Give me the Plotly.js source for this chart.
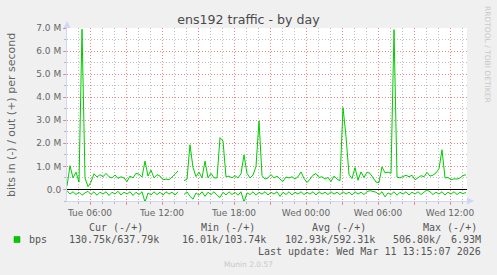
<!DOCTYPE html>
<html>
<head>
<meta charset="utf-8">
<script src="https://cdn.plot.ly/plotly-3.0.1.min.js"></script>
<style>
html,body{margin:0;padding:0;background:#f0f0f0;}
#chart{width:497px;height:275px;}
</style>
</head>
<body>
<div id="chart"></div>
<script>
// ---- data (Mbit/s), 15-minute samples starting 2026-03-10 04:05 ----
const sampleStart = '2026-03-10T04:05:00Z';
const sampleStepMin = 15;
const bpsOut = [
0.15,1.03,0.5,0.75,0.32,6.95,0.5,0.12,0.32,0.68,
0.54,0.64,0.55,0.7,0.55,0.5,0.63,0.48,0.55,0.5,
0.34,0.58,0.5,0.7,0.66,0.54,1.23,0.58,0.84,0.5,
0.64,0.58,0.42,0.45,0.42,0.52,0.66,0.8,null,0.38,
0.45,1.94,0.95,0.56,0.75,0.5,1.23,0.5,0.7,0.5,
0.5,2.25,2.1,0.55,0.58,0.5,0.6,0.5,0.68,1.5,
0.7,0.5,0.62,1.0,2.97,0.6,0.45,0.5,0.65,0.5,
0.58,0.45,0.35,0.54,0.5,0.55,0.45,0.55,0.76,0.48,
0.3,0.45,0.62,0.69,0.52,0.55,0.45,0.52,0.34,0.58,
0.45,0.38,3.55,2.3,0.65,0.47,0.95,0.4,0.76,0.52,
0.75,0.7,0.5,0.32,0.3,0.98,0.72,0.75,0.7,6.93,
0.54,0.5,0.56,0.62,0.55,0.62,0.42,0.5,0.6,0.55,
0.74,0.58,0.62,0.72,0.9,1.72,0.5,0.52,0.42,0.46,
0.45,0.5,0.6,0.64
];
const bpsIn = [
0.05,0.2,0.1,0.22,0.12,0.25,0.15,0.08,0.22,0.1,
0.25,0.12,0.2,0.1,0.26,0.12,0.2,0.08,0.24,0.12,
0.2,0.1,0.26,0.12,0.22,0.1,0.55,0.15,0.24,0.1,
0.22,0.12,0.25,0.1,0.2,0.12,0.24,0.1,null,0.22,
0.1,0.3,0.42,0.15,0.25,0.1,0.3,0.12,0.22,0.1,
0.25,0.35,0.12,0.24,0.1,0.22,0.12,0.25,0.1,0.55,
0.15,0.22,0.1,0.25,0.12,0.2,0.1,0.24,0.12,0.2,
0.1,0.3,0.12,0.22,0.1,0.24,0.12,0.2,0.1,0.22,
0.12,0.2,0.1,0.24,0.1,0.2,0.12,0.22,0.1,0.2,
0.12,0.22,0.1,0.2,0.12,0.24,0.1,0.2,0.12,0.22,
0.1,0.05,0.08,0.12,0.22,0.1,0.32,0.15,0.22,0.1,
0.25,0.12,0.2,0.1,0.24,0.12,0.2,0.1,0.22,0.12,
0.02,0.1,0.22,0.12,0.2,0.1,0.24,0.12,0.2,0.1,
0.22,0.12,0.18,0.13
];
const yTickVals = [0,1,2,3,4,5,6,7];
const yTickText = ['0.0','1.0 M','2.0 M','3.0 M','4.0 M','5.0 M','6.0 M','7.0 M'];
const xTickVals = ['2026-03-10 06:00','2026-03-10 09:00','2026-03-10 12:00','2026-03-10 15:00',
  '2026-03-10 18:00','2026-03-10 21:00','2026-03-11 00:00','2026-03-11 03:00',
  '2026-03-11 06:00','2026-03-11 09:00','2026-03-11 12:00'];
const xTickText = ['Tue 06:00','','Tue 12:00','','Tue 18:00','','Wed 00:00','','Wed 06:00','','Wed 12:00'];
const legendHeaders = ['Cur (-/+)','Min (-/+)','Avg (-/+)','Max (-/+)'];
const legendValues = ['130.75k/637.79k','16.01k/103.74k','102.93k/592.31k','506.80k/','6.93M'];
const lastUpdate = 'Last update: Wed Mar 11 13:15:07 2026';

// ---- build times ----
const t0 = Date.parse(sampleStart);
const times = bpsOut.map((_, i) => new Date(t0 + i*sampleStepMin*60000).toISOString().slice(0,19).replace('T',' '));
const inNeg = bpsIn.map(v => v === null ? null : -v);

// ---- geometry helpers (pixel -> paper) ----
const L = 67, R = 467, T = 28, B = 201;
const X = px => (px - L) / (R - L);
const Y = py => (B - py) / (B - T);

const green = '#00cc00';
const fontCol = '#666666';
const mono = 'DejaVu Sans Mono';

const traces = [
  {x: times, y: inNeg, type: 'scatter', mode: 'lines', line: {color: green, width: 1}, connectgaps: false, hoverinfo: 'skip'},
  {x: times, y: bpsOut, type: 'scatter', mode: 'lines', line: {color: green, width: 1}, connectgaps: false, hoverinfo: 'skip'}
];

const ann = [];
function text(t, px, py, opts) {
  ann.push(Object.assign({text: t, xref: 'paper', yref: 'paper', x: X(px), y: Y(py),
    showarrow: false, xanchor: 'left', yanchor: 'middle',
    font: {family: mono, size: 10, color: '#555555'}}, opts || {}));
}
// column headers
text(legendHeaders[0], 115.8, 227.7, {xanchor: 'center'});
text(legendHeaders[1], 227.5, 227.7, {xanchor: 'center'});
text(legendHeaders[2], 338.7, 227.7, {xanchor: 'center'});
text(legendHeaders[3], 449.5, 227.7, {xanchor: 'center'});
// values
text('bps', 26.5, 239.3);
text(legendValues[0], 66.7, 239.3);
text(legendValues[1], 180.3, 239.3);
text(legendValues[2], 283.3, 239.3);
text(legendValues[3], 391, 239.3);
text(legendValues[4], 482.7, 239.3, {xanchor: 'right'});
text(lastUpdate, 482.5, 251, {xanchor: 'right'});
// watermark texts
text('Munin 2.0.57', 248, 264, {xanchor: 'center', font: {family: 'DejaVu Sans', size: 7.5, color: '#c8c8c8'}});
text('RRDTOOL / TOBI OETIKER', 488, 54, {xanchor: 'center', textangle: 90, font: {family: 'DejaVu Sans', size: 7.5, color: '#c8c8c8'}});
// y axis title
text('bits in (-) / out (+) per second', 11, 115, {xanchor: 'center', textangle: -90, font: {family: 'DejaVu Sans', size: 11, color: fontCol}});

const arrowCol = '#cfd6f8';
const shapes = [
  // y axis arrow (top)
  {type: 'path', xref: 'paper', yref: 'paper',
   path: `M ${X(63.5)},${Y(28)} L ${X(67)},${Y(21)} L ${X(70.5)},${Y(28)} Z`,
   fillcolor: arrowCol, line: {width: 0}},
  // x axis arrow (right)
  {type: 'path', xref: 'paper', yref: 'paper',
   path: `M ${X(467)},${Y(197.5)} L ${X(474)},${Y(201)} L ${X(467)},${Y(204.5)} Z`,
   fillcolor: arrowCol, line: {width: 0}},
  // legend colour box
  {type: 'rect', xref: 'paper', yref: 'paper', x0: X(14), x1: X(20), y0: Y(242.5), y1: Y(236.5),
   fillcolor: green, line: {color: '#00a000', width: 0.5}}
];

const majorGrid = 'rgba(235,120,120,0.75)';
const minorGrid = 'rgba(140,140,140,0.55)';

const layout = {
  width: 497, height: 275,
  margin: {l: L, r: 497 - R, t: T, b: 275 - B, pad: 0},
  paper_bgcolor: '#f0f0f0', plot_bgcolor: '#ffffff',
  showlegend: false,
  title: {text: 'ens192 traffic - by day', xref: 'container', x: 0.5, xanchor: 'center',
    yref: 'container', y: 1 - 19.5/275, yanchor: 'middle',
    font: {family: 'DejaVu Sans', size: 12.6, color: '#4a4a4a'}},
  xaxis: {
    type: 'date',
    range: ['2026-03-10 04:05', '2026-03-11 13:25'],
    tickmode: 'array', tickvals: xTickVals, ticktext: xTickText,
    ticks: 'outside', ticklen: 3, tickcolor: majorGrid, tickwidth: 1,
    showgrid: true, gridcolor: majorGrid, griddash: '1px,2px', gridwidth: 1,
    minor: {dtick: 3600000, tick0: '2026-03-10 00:00', showgrid: true, gridcolor: minorGrid,
      griddash: '1px,2px', gridwidth: 1, ticks: 'outside', ticklen: 2, tickcolor: minorGrid},
    showline: true, linecolor: arrowCol, linewidth: 1,
    zeroline: false,
    tickfont: {family: 'DejaVu Sans', size: 9, color: fontCol},
    fixedrange: true
  },
  yaxis: {
    range: [-0.5, 7.0],
    tickmode: 'array', tickvals: yTickVals, ticktext: yTickText,
    ticks: 'outside', ticklen: 3, tickcolor: majorGrid, tickwidth: 1,
    showgrid: true, gridcolor: majorGrid, griddash: '1px,2px', gridwidth: 1,
    minor: {dtick: 0.5, tick0: 0, showgrid: true, gridcolor: minorGrid,
      griddash: '1px,2px', gridwidth: 1, ticks: 'outside', ticklen: 2, tickcolor: minorGrid},
    showline: true, linecolor: arrowCol, linewidth: 1,
    zeroline: true, zerolinecolor: '#000000', zerolinewidth: 1,
    tickfont: {family: 'DejaVu Sans', size: 9, color: fontCol},
    fixedrange: true
  },
  annotations: ann,
  shapes: shapes
};

Plotly.newPlot('chart', traces, layout, {displayModeBar: false, staticPlot: true});
</script>
</body>
</html>
